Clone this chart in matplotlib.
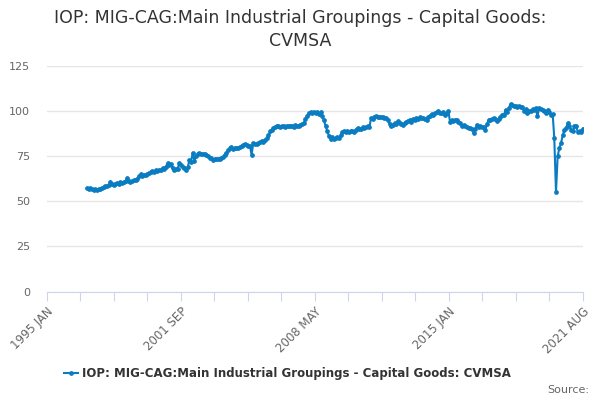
import numpy as np
import pandas as pd
import matplotlib
matplotlib.use('Agg')
import matplotlib.pyplot as plt
import matplotlib.dates as mdates

# monthly index values, Jan 1997 .. Aug 2021
v1997 = [57.2, 57.0, 57.4, 56.8, 56.5, 56.9, 56.2, 56.6, 57.0, 57.5, 58.0, 58.3]
v1998 = [58.5, 58.8, 61.0, 59.4, 59.2, 59.8, 60.1, 59.6, 60.5, 60.2, 60.8, 61.2]
v1999 = [63.0, 61.2, 60.7, 61.3, 61.8, 62.0, 62.6, 63.8, 65.0, 64.3, 64.6, 64.7]
v2000 = [65.2, 65.8, 66.4, 67.0, 66.5, 67.3, 66.8, 67.5, 67.2, 68.4, 68.0, 69.2]
v2001 = [71.0, 70.3, 70.6, 68.4, 67.5, 67.8, 68.2, 71.0, 70.0, 69.3, 68.5, 67.5]
v2002 = [69.0, 73.0, 72.0, 76.8, 72.5, 74.9, 76.5, 76.8, 76.0, 76.2, 76.4, 75.8]
v2003 = [75.0, 74.2, 73.8, 73.0, 73.5, 73.2, 73.6, 73.4, 74.0, 74.6, 75.8, 77.0]
v2004 = [78.2, 79.5, 80.3, 79.2, 79.6, 79.8, 79.5, 80.2, 80.8, 81.2, 81.8, 81.3]
v2005 = [80.9, 80.4, 75.8, 82.3, 81.8, 82.0, 82.5, 82.7, 83.6, 82.9, 84.2, 85.0]
v2006 = [86.5, 88.8, 89.5, 90.6, 91.2, 92.0, 91.5, 91.2, 91.8, 91.6, 91.3, 91.9]
v2007 = [91.5, 92.0, 91.8, 91.2, 92.2, 91.6, 92.0, 92.5, 92.8, 93.4, 95.5, 97.5]
v2008 = [99.0, 99.3, 98.8, 99.6, 99.2, 99.5, 98.6, 99.4, 97.1, 95.0, 91.6, 89.0]
v2009 = [86.0, 84.8, 85.5, 84.6, 85.1, 85.8, 84.9, 86.5, 88.3, 88.8, 88.5, 88.9]
v2010 = [88.7, 89.2, 89.0, 88.6, 89.8, 90.7, 90.2, 89.9, 91.0, 90.4, 91.2, 91.6]
v2011 = [91.0, 96.2, 95.5, 96.8, 97.1, 96.5, 97.0, 96.8, 96.6, 96.3, 96.2, 95.0]
v2012 = [93.0, 91.6, 92.4, 93.2, 92.8, 94.3, 93.4, 92.9, 92.5, 93.6, 94.2, 94.8]
v2013 = [95.3, 94.0, 95.6, 95.0, 96.1, 95.8, 96.6, 96.0, 96.4, 95.6, 95.3, 96.8]
v2014 = [97.5, 98.4, 98.0, 98.9, 99.3, 99.9, 99.2, 98.7, 99.6, 98.1, 98.8, 99.9]
v2015 = [94.0, 95.2, 94.6, 95.0, 95.3, 94.1, 93.2, 91.6, 92.4, 91.8, 91.2, 90.9]
v2016 = [90.7, 90.3, 87.9, 90.1, 92.5, 91.0, 91.6, 91.2, 91.0, 89.7, 93.0, 95.3]
v2017 = [95.0, 95.6, 96.2, 95.5, 94.7, 95.8, 97.0, 98.1, 97.6, 100.8, 99.5, 101.8]
v2018 = [104.0, 103.2, 102.7, 103.0, 102.5, 102.8, 102.1, 102.4, 100.3, 100.9, 99.0, 100.0]
v2019 = [100.3, 101.0, 100.6, 101.8, 97.1, 101.5, 101.4, 100.5, 100.0, 99.0, 100.8, 99.6]
v2020 = [98.1, 98.4, 85.0, 55.2, 75.0, 79.5, 82.3, 86.6, 89.7, 90.6, 93.4, 91.5]
v2021 = [89.8, 88.8, 91.6, 92.0, 88.2, 88.8, 88.6, 90.3]

values = (v1997 + v1998 + v1999 + v2000 + v2001 + v2002 + v2003 + v2004 + v2005
          + v2006 + v2007 + v2008 + v2009 + v2010 + v2011 + v2012 + v2013 + v2014
          + v2015 + v2016 + v2017 + v2018 + v2019 + v2020 + v2021)
dates = pd.date_range('1997-01-01', periods=len(values), freq='MS')

tick_labels = ['1995 JAN', '2001 SEP', '2008 MAY', '2015 JAN', '2021 AUG']
series_name = 'IOP: MIG-CAG:Main Industrial Groupings - Capital Goods: CVMSA'

fig = plt.figure(figsize=(6, 4), dpi=100)
ax = fig.add_axes([0.0775, 0.271, 0.894, 0.564])

line, = ax.plot(dates, values, color='#0a7cc1', lw=1.5, marker='o', ms=2.4,
                label=series_name)

lo = mdates.date2num(pd.Timestamp('1995-01-01'))
hi = mdates.date2num(pd.Timestamp('2021-08-01'))
ax.set_xlim(lo, hi)
ax.set_ylim(0, 125)

# 16 tick intervals, a label on every 4th tick
ticks = np.linspace(lo, hi, 17)
ax.set_xticks(ticks)
ax.set_xticklabels([tick_labels[i // 4] if i % 4 == 0 else '' for i in range(17)],
                   rotation=45, ha='right', rotation_mode='anchor',
                   fontsize=8.5, color='#666666')
ax.tick_params(axis='x', length=6.5, color='#ccd6eb', pad=3)

ax.set_yticks([0, 25, 50, 75, 100, 125])
ax.tick_params(axis='y', length=0, labelsize=8, labelcolor='#666666', pad=12)
ax.grid(axis='y', color='#e6e6e6', lw=1)
ax.set_axisbelow(True)

for s in ['top', 'right', 'left']:
    ax.spines[s].set_visible(False)
ax.spines['bottom'].set_color('#ccd6eb')

fig.text(0.5, 0.978, 'IOP: MIG-CAG:Main Industrial Groupings - Capital Goods:\nCVMSA',
         ha='center', va='top', fontsize=12.5, color='#333333', linespacing=1.35)

fig.legend(handles=[line], loc='center', bbox_to_anchor=(0.479, 0.065),
           frameon=False, prop=dict(weight='bold', size=8.5), handlelength=1.2,
           handletextpad=0.4, labelcolor='#333333')

fig.text(0.982, 0.025, 'Source:', ha='right', va='center', fontsize=8, color='#666666')

fig.savefig('out.png', dpi=100)
